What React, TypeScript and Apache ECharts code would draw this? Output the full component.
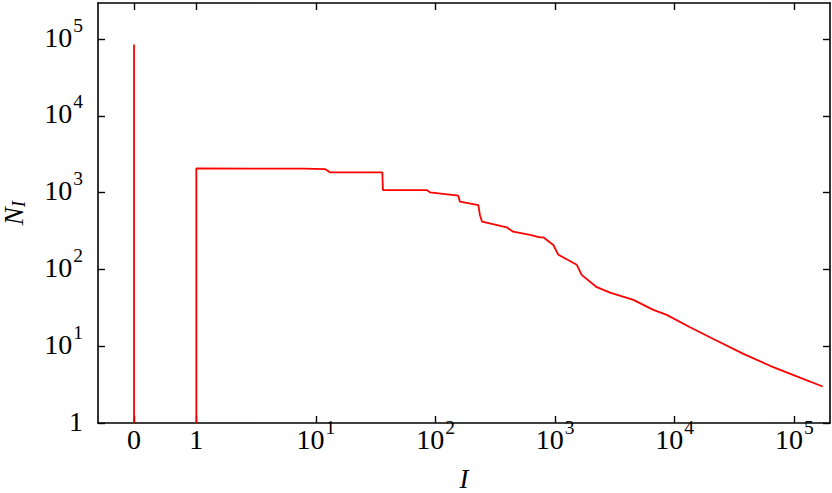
import React, { useEffect, useRef } from "react";
import * as echarts from "echarts";

// Data
const ZERO_SPIKE_N = 85000; // value at I = 0
const iValues = [1, 1, 8, 11.9, 13.1, 35.9, 36.3, 84.3, 89.9, 155, 160, 228, 235, 245, 394, 445, 617, 746, 796, 966, 1064, 1517, 1667, 2228, 2877, 4508, 6622, 8570, 13430, 21040, 37500, 62660, 104700, 172600];
const nValues = [1, 2070, 2050, 2028, 1837, 1837, 1081, 1081, 1009, 912, 762, 690, 512, 419, 354, 310, 281, 262, 262, 208, 155, 115, 85, 58.7, 49.9, 40.1, 29.7, 25.6, 17.7, 12.4, 7.96, 5.56, 4.04, 2.99];
const xTickLabels = ["0", "1", "10^1", "10^2", "10^3", "10^4", "10^5"];
const yTickLabels = ["1", "10^1", "10^2", "10^3", "10^4", "10^5"];

const ZERO_POS = -0.521; // where I = 0 is placed on the log axis
const X_MIN = -0.822;
const X_MAX = 5.298;
const Y_MAX = 5.47;

const FONT = "Liberation Serif";

const xPos = (i: number) => (i === 0 ? ZERO_POS : Math.log10(i));
const xTickValues = [ZERO_POS, 0, 1, 2, 3, 4, 5];
const yTickValues = [0, 1, 2, 3, 4, 5];

const fmt = (s: string) => {
  if (s.includes("^")) {
    const [b, e] = s.split("^");
    return `{b|${b}}{s|${e}}`;
  }
  return `{p|${s}}`;
};

const rich = {
  b: { fontSize: 28, fontFamily: FONT, color: "#000", lineHeight: 30 },
  p: { fontSize: 28, fontFamily: FONT, color: "#000", lineHeight: 30, padding: [7, 0, 7, 0] },
  s: { fontSize: 19.5, fontFamily: FONT, color: "#000", lineHeight: 20, padding: [0, 0, 24, 1] },
};

export default function App() {
  const ref = useRef<HTMLDivElement>(null);
  useEffect(() => {
    if (!ref.current) return;
    const chart = echarts.init(ref.current, null, { renderer: "svg" });
    const data: any[] = [
      [xPos(0), 0],
      [xPos(0), Math.log10(ZERO_SPIKE_N)],
      "-",
      ...iValues.map((v, k) => [xPos(v), Math.log10(nValues[k])]),
    ];
    const axisLine = { show: true, onZero: false, lineStyle: { color: "#000", width: 1.6 } };
    const tickStyle = { color: "#000", width: 1.4 };
    chart.setOption({
      animation: false,
      textStyle: { fontFamily: FONT, fontSize: 28, color: "#000" },
      grid: { left: 98, right: 2, top: 3, bottom: 70, containLabel: false, outerBoundsMode: "none" },
      xAxis: [
        {
          type: "value",
          min: X_MIN,
          max: X_MAX,
          position: "bottom",
          axisLine,
          axisTick: { show: true, inside: true, length: 7, lineStyle: tickStyle, customValues: xTickValues },
          axisLabel: {
            show: true,
            margin: 1,
            fontFamily: FONT,
            fontSize: 28,
            color: "#000",
            customValues: xTickValues,
            formatter: (v: number) => {
              const idx = xTickValues.findIndex((t) => Math.abs(t - v) < 1e-6);
              return idx >= 0 ? fmt(xTickLabels[idx]) : "";
            },
            rich,
          },
          splitLine: { show: false },
          name: "{i|I}",
          nameLocation: "middle",
          nameGap: 42,
          nameTextStyle: {
            fontFamily: FONT,
            rich: { i: { fontSize: 27, fontFamily: FONT, fontStyle: "italic", color: "#000", lineHeight: 24 } },
          },
        },
        {
          type: "value",
          min: X_MIN,
          max: X_MAX,
          position: "top",
          axisLine,
          axisTick: { show: true, inside: true, length: 7, lineStyle: tickStyle, customValues: xTickValues },
          axisLabel: { show: false },
          splitLine: { show: false },
        },
      ],
      yAxis: [
        {
          type: "value",
          min: 0,
          max: Y_MAX,
          position: "left",
          axisLine,
          axisTick: { show: true, inside: true, length: 7, lineStyle: tickStyle, customValues: yTickValues },
          axisLabel: {
            show: true,
            margin: 15,
            padding: [0, 0, 4, 0],
            fontFamily: FONT,
            fontSize: 28,
            color: "#000",
            customValues: yTickValues,
            formatter: (v: number) => {
              const idx = yTickValues.findIndex((t) => Math.abs(t - v) < 1e-6);
              return idx >= 0 ? fmt(yTickLabels[idx]) : "";
            },
            rich,
          },
          splitLine: { show: false },
          name: "{n|N}{i|I}",
          nameLocation: "middle",
          nameGap: 73,
          nameRotate: 90,
          nameTextStyle: {
            fontFamily: FONT,
            rich: {
              n: { fontSize: 27, fontFamily: FONT, fontStyle: "italic", color: "#000", lineHeight: 22 },
              i: { fontSize: 19, fontFamily: FONT, fontStyle: "italic", color: "#000", lineHeight: 14, padding: [8, 0, 0, 0] },
            },
          },
        },
        {
          type: "value",
          min: 0,
          max: Y_MAX,
          position: "right",
          axisLine,
          axisTick: { show: true, inside: true, length: 7, lineStyle: tickStyle, customValues: yTickValues },
          axisLabel: { show: false },
          splitLine: { show: false },
        },
      ],
      series: [
        {
          type: "line",
          data,
          showSymbol: false,
          connectNulls: false,
          lineStyle: { color: "#ff0000", width: 1.8 },
          clip: true,
        },
      ],
    });
    return () => chart.dispose();
  }, []);
  return <div ref={ref} style={{ width: 832, height: 493, position: "absolute", left: 0, top: 0, background: "#fff" }} />;
}
